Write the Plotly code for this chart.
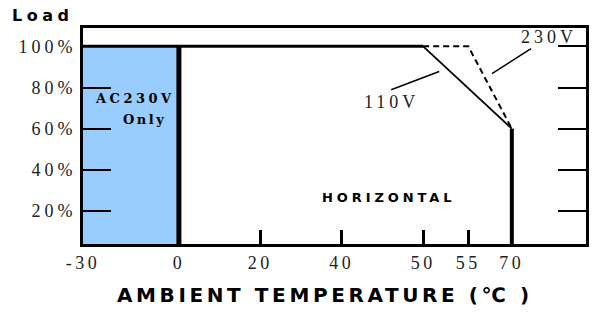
import numpy as np
import plotly.graph_objects as go

# ---- axis scale (the temperature axis is not linear in the original) ----
temp_ticks = [-30, 0, 20, 40, 50, 55, 70]
tick_labels = ["-30", "0", "20", "40", "50", "55", "70"]
tick_pos = [-1.178, 0, 1, 2, 3, 3.554, 4.089]
load_ticks = [20, 40, 60, 80, 100]
load_labels = ["20%", "40%", "60%", "80%", "100%"]

# ---- data ----
ac230_only_temp = [-30, 0, 0, -30]
ac230_only_load = [0, 0, 100, 100]
full_load_temp = [-30, 50]
full_load_load = [100, 100]
derate_110v_temp = [50, 70]
derate_110v_load = [100, 60]
derate_230v_temp = [50, 55, 70]
derate_230v_load = [100, 100, 60]
limit_low_temp = [0, 0]
limit_low_load = [0, 100]
limit_high_temp = [70, 70]
limit_high_load = [0, 60]


def pos(t):
    return np.interp(t, temp_ticks, tick_pos)


def spaced(s, ls, bold=False):
    inner = f"<b>{s}</b>" if bold else s
    return f'<span style="letter-spacing:{ls}px">{inner}</span>'


SERIF = "Liberation Serif, Times New Roman, serif"
SANS_B = "DejaVu Sans, Arial, sans-serif"

# plot area in pixels
L, T, W, H = 83, 28, 506, 216


def px(x):
    return (x - L) / W


def py(y):
    return (T + H - y) / H


fig = go.Figure()
fig.add_trace(go.Scatter(x=pos(ac230_only_temp), y=ac230_only_load, mode="lines",
                         fill="toself", fillcolor="#99CCFF", line=dict(width=0),
                         hoverinfo="skip", showlegend=False))
fig.add_trace(go.Scatter(x=pos(derate_230v_temp), y=derate_230v_load, mode="lines",
                         line=dict(color="black", width=2, dash="6px,4px"), showlegend=False))
fig.add_trace(go.Scatter(x=pos(derate_110v_temp), y=derate_110v_load, mode="lines",
                         line=dict(color="black", width=1.8), showlegend=False))
fig.add_trace(go.Scatter(x=pos(full_load_temp), y=full_load_load, mode="lines",
                         line=dict(color="black", width=3), showlegend=False))
fig.add_trace(go.Scatter(x=pos(limit_low_temp), y=limit_low_load, mode="lines",
                         line=dict(color="black", width=5), showlegend=False))
fig.add_trace(go.Scatter(x=pos(limit_high_temp), y=limit_high_load, mode="lines",
                         line=dict(color="black", width=4), showlegend=False))

fig.update_layout(
    width=592, height=313,
    margin=dict(l=L, r=592 - L - W, t=T, b=313 - T - H),
    paper_bgcolor="white", plot_bgcolor="white",
    showlegend=False,
    xaxis=dict(range=[-1.178, 5.0], tickvals=tick_pos,
               ticktext=[spaced(t, 3.5) for t in tick_labels],
               ticks="inside", ticklen=14, tickwidth=3, tickcolor="black",
               showline=True, linewidth=3, linecolor="black", mirror=True,
               showgrid=False, zeroline=False,
               tickfont=dict(family=SERIF, size=18, color="#222")),
    yaxis=dict(range=[4.0, 108.9], tickvals=load_ticks,
               ticktext=[spaced(t, 4) for t in load_labels],
               ticks="inside", ticklen=28, tickwidth=2, tickcolor="black",
               showline=True, linewidth=3, linecolor="black", mirror="ticks",
               showgrid=False, zeroline=False,
               tickfont=dict(family=SERIF, size=18, color="#222")),
)

annots = [
    dict(text=spaced("Load", 4.5, True), x=px(42), y=py(16),
         font=dict(family=SANS_B, size=16, color="black")),
    dict(text=spaced("AC230V", 3.5, True), x=px(135), y=py(98.5),
         font=dict(family="DejaVu Serif, serif", size=13, color="black")),
    dict(text=spaced("Only", 2.5, True), x=px(145), y=py(119),
         font=dict(family="DejaVu Serif, serif", size=13, color="black")),
    dict(text=spaced("HORIZONTAL", 3.9, True), x=px(390), y=py(197.5),
         font=dict(family=SANS_B, size=13, color="black")),
    dict(text=spaced("AMBIENT TEMPERATURE (℃ )", 3.6, True), x=px(326), y=py(295),
         font=dict(family=SANS_B, size=20, color="black")),
]
for a in annots:
    fig.add_annotation(xref="paper", yref="paper", showarrow=False,
                       xanchor="center", yanchor="middle", **a)

fig.add_annotation(text=spaced("230V", 4), x=3.845, y=86.7, xref="x", yref="y",
                   showarrow=True, arrowhead=0, arrowwidth=1.5, arrowcolor="black",
                   ax=57, ay=-36.5, standoff=0,
                   font=dict(family=SERIF, size=18, color="#222"))
fig.add_annotation(text=spaced("110V", 4), x=3.197, y=87.8, xref="x", yref="y",
                   showarrow=True, arrowhead=0, arrowwidth=1.5, arrowcolor="black",
                   ax=-48, ay=18.3, standoff=0, xanchor="center", yanchor="top",
                   font=dict(family=SERIF, size=18, color="#222"))

fig.write_html("out.html", config={"displayModeBar": False},
               post_script="document.body.style.margin='0px';document.body.style.overflow='hidden';")
